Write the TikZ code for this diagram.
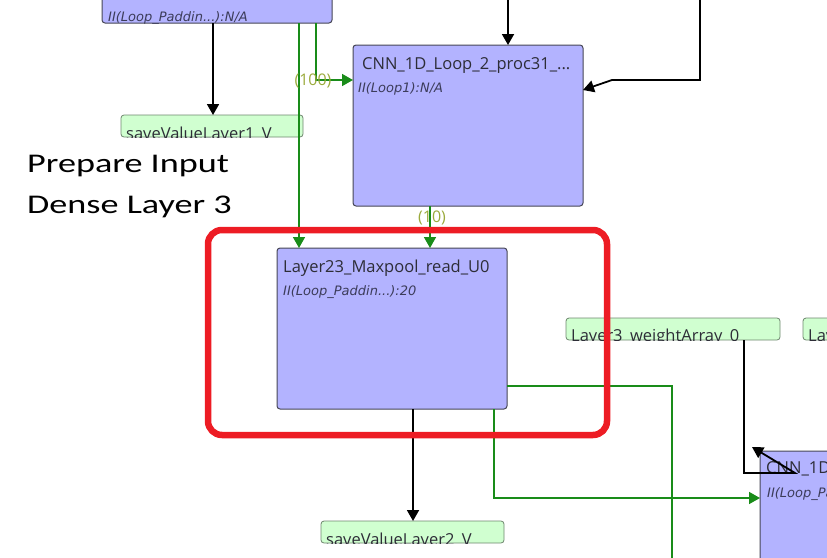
\documentclass[tikz,border=0pt]{standalone}
\usepackage{fontspec}
\setmainfont{Open Sans}
\newfontfamily\subfont{DejaVu Sans}
\newfontfamily\notefont{Carlito}
\usetikzlibrary{arrows.meta}
\definecolor{boxblue}{RGB}{179,179,255}
\definecolor{boxedge}{RGB}{70,70,85}
\definecolor{gfill}{RGB}{208,255,208}
\definecolor{gedge}{RGB}{110,135,110}
\definecolor{wire}{RGB}{25,140,25}
\definecolor{lab}{RGB}{155,170,60}
\definecolor{hl}{RGB}{237,28,36}
\definecolor{ttext}{RGB}{45,45,55}
\definecolor{stext}{RGB}{60,60,90}
\tikzset{
  procbox/.style={draw=boxedge, fill=boxblue, line width=1pt, rounded corners=3pt, anchor=north west, inner sep=0pt, outer sep=0pt},
  membox/.style={draw=gedge, fill=gfill, line width=0.8pt, rounded corners=3pt, anchor=north west, inner sep=0pt, outer sep=0pt},
  titletext/.style={anchor=base west, inner sep=0pt, font=\fontsize{16.5}{18}\selectfont, text=ttext},
  subtext/.style={anchor=base west, inner sep=0pt, font=\subfont\itshape\fontsize{13}{15}\selectfont, text=stext},
  memtext/.style={anchor=base west, inner sep=0pt, font=\fontsize{16.5}{18}\selectfont, text=ttext},
  edgelabel/.style={inner sep=0pt, font=\fontsize{16}{18}\selectfont, text=lab},
  notetext/.style={anchor=base west, inner sep=0pt, font=\notefont\fontsize{27}{30}\selectfont, text=black},
  gwire/.style={draw=wire, line width=1.6pt},
  bwire/.style={draw=black, line width=1.8pt},
  tip/.style={-{Triangle[length=11pt,width=12pt]}}
}
\begin{document}
\begin{tikzpicture}[x=1pt,y=-1pt]
\useasboundingbox (0,0) rectangle (827,557);
\clip (0,0) rectangle (827,557);

% boxes
\node[procbox, minimum width=230pt, minimum height=83pt] (tl) at (102,-60) {};
\node[procbox, minimum width=230pt, minimum height=161pt] (cnn) at (353,45) {};
\node[procbox, minimum width=230pt, minimum height=161pt] (layer23) at (277,248) {};
\node[procbox, minimum width=150pt, minimum height=161pt] (cnnR) at (760,451) {};
\node[membox, minimum width=182pt, minimum height=22pt] (save1) at (121,115) {};
\node[membox, minimum width=183pt, minimum height=22pt] (save2) at (321,521) {};
\node[membox, minimum width=214pt, minimum height=22pt] (w3) at (566,318) {};
\node[membox, minimum width=80pt, minimum height=22pt] (la) at (803,318) {};

% texts clipped to their boxes
\begin{scope}
\clip (tl.south west) rectangle (tl.north east);
\node[subtext] (tlsub) at (108,21) {II(Loop\_Paddin...):N/A};
\end{scope}
\begin{scope}
\clip (cnn.south west) rectangle (cnn.north east);
\node[titletext] (cnntitle) at (362,69) {CNN\_1D\_Loop\_2\_proc31\_...};
\node[subtext] (cnnsub) at (358,92) {II(Loop1):N/A};
\end{scope}
\begin{scope}
\clip (layer23.south west) rectangle (layer23.north east);
\node[titletext] (l23title) at (283,272) {Layer23\_Maxpool\_read\_U0};
\node[subtext] (l23sub) at (283,295) {II(Loop\_Paddin...):20};
\end{scope}
\begin{scope}
\clip (cnnR.south west) rectangle (cnnR.north east);
\node[titletext] (cnnRtitle) at (766,473) {CNN\_1D\_Loop};
\node[subtext] (cnnRsub) at (767,497) {II(Loop\_Paddin...)};
\end{scope}
\begin{scope}
\clip (save1.south west) rectangle (save1.north east);
\node[memtext] (save1t) at (126,139) {saveValueLayer1\_V};
\end{scope}
\begin{scope}
\clip (save2.south west) rectangle (save2.north east);
\node[memtext] (save2t) at (326,545) {saveValueLayer2\_V};
\end{scope}
\begin{scope}
\clip (w3.south west) rectangle (w3.north east);
\node[memtext] (w3t) at (571,341) {Layer3\_weightArray\_0};
\end{scope}
\begin{scope}
\clip (la.south west) rectangle (la.north east);
\node[memtext] (lat) at (808,341) {Layer3\_weightArray\_1};
\end{scope}

% free ends
\coordinate (in1) at (508,-5);
\coordinate (in2) at (700,-5);
\coordinate (in2b) at (700,80);
\coordinate (in2c) at (612,80);
\coordinate (g1) at (672,570);
\coordinate (k1) at (744,473);
\coordinate (k2) at (795,473);

% connectors
\draw[bwire, tip] ([xshift=111pt]tl.south west) -- ([xshift=92pt]save1.north west);
\draw[gwire, tip] ([xshift=197pt]tl.south west) -- ([xshift=22pt]layer23.north west);
\draw[gwire, tip] ([xshift=214pt]tl.south west) |- ([yshift=-35pt]cnn.north west);
\node[edgelabel] (l100) at (313,81) {(100)};
\draw[bwire, tip] (in1) -- (in1 |- cnn.north);
\draw[bwire, tip] (in2) -- (in2b) -- (in2c) -- ([yshift=-45pt]cnn.north east);
\draw[gwire, tip] ([xshift=77pt]cnn.south west) -- ([xshift=153pt]layer23.north west);
\node[edgelabel] (l10) at (432,218) {(10)};
\draw[bwire, tip] ([xshift=136pt]layer23.south west) -- ([xshift=92pt]save2.north west);
\draw[gwire, tip] ([xshift=217pt]layer23.south west) |- ([yshift=-47pt]cnnR.north west);
\draw[gwire] ([yshift=23pt]layer23.south east) -| (g1);
\draw[bwire, tip] ([xshift=178pt]w3.south west) -- (k1) -- (k2) -- ([shift={(-8pt,4pt)}]cnnR.north west);

% notes
\node[notetext] (note1) at (27,172) {\scalebox{1.34}[1]{Prepare Input}};
\node[notetext] (note2) at (27,213) {\scalebox{1.34}[1]{Dense Layer 3}};

% highlight
\draw[hl, line width=6.5pt, rounded corners=14pt] (208,230) rectangle (607,435);
\end{tikzpicture}
\end{document}
